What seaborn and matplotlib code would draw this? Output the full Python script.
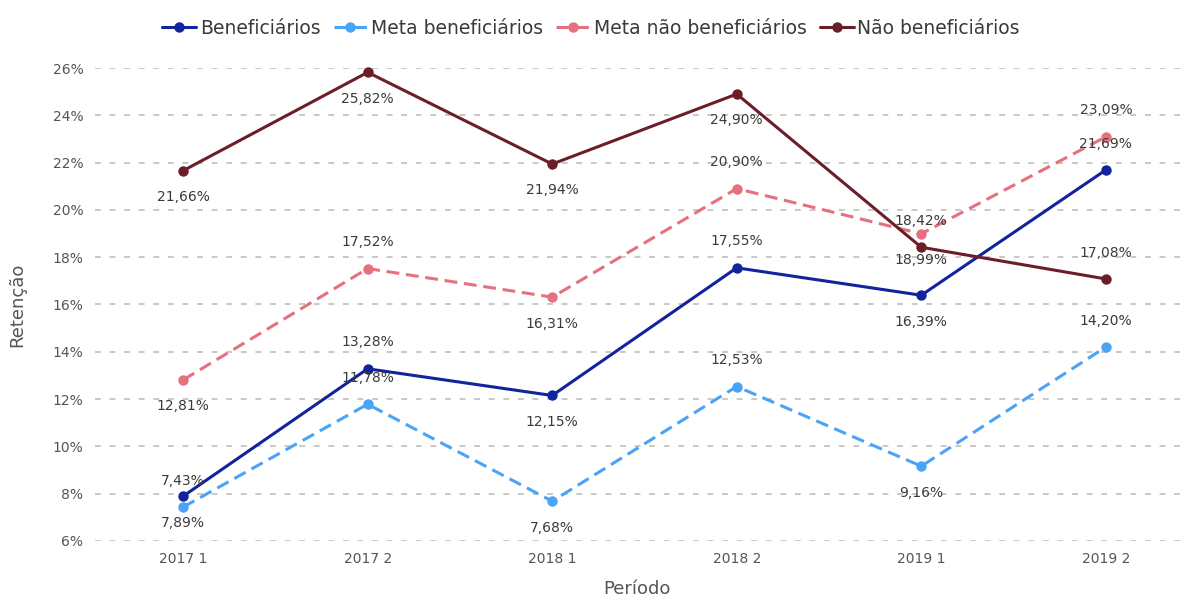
import pandas as pd
import matplotlib.pyplot as plt
import seaborn as sns

periodos = ["2017 1", "2017 2", "2018 1", "2018 2", "2019 1", "2019 2"]
series = ["Beneficiários", "Meta beneficiários", "Meta não beneficiários", "Não beneficiários"]
beneficiarios = [7.89, 13.28, 12.15, 17.55, 16.39, 21.69]
meta_beneficiarios = [7.43, 11.78, 7.68, 12.53, 9.16, 14.20]
meta_nao_beneficiarios = [12.81, 17.52, 16.31, 20.90, 18.99, 23.09]
nao_beneficiarios = [21.66, 25.82, 21.94, 24.90, 18.42, 17.08]
y_ticks = [6, 8, 10, 12, 14, 16, 18, 20, 22, 24, 26]

valores = [beneficiarios, meta_beneficiarios, meta_nao_beneficiarios, nao_beneficiarios]
df = pd.DataFrame(
    [(p, s, v) for s, vals in zip(series, valores) for p, v in zip(periodos, vals)],
    columns=["Período", "Série", "Retenção"],
)

cores = {
    "Beneficiários": "#12239E",
    "Meta beneficiários": "#4AA3F5",
    "Meta não beneficiários": "#E5707E",
    "Não beneficiários": "#6B1E28",
}
tracos = {
    "Beneficiários": "",
    "Meta beneficiários": (4.2, 2.2),
    "Meta não beneficiários": (4.2, 2.2),
    "Não beneficiários": "",
}
# posicao dos rotulos: 1 acima, -1 abaixo
direcao = {
    "Beneficiários": [-1, 1, -1, 1, -1, 1],
    "Meta beneficiários": [1, 1, -1, 1, -1, 1],
    "Meta não beneficiários": [-1, 1, -1, 1, -1, 1],
    "Não beneficiários": [-1, -1, -1, -1, 1, 1],
}

sns.set_style("white")
plt.rcParams["font.family"] = ["DejaVu Sans"]
cinza = "#555555"

fig = plt.figure(figsize=(11.82, 5.97), dpi=100)
ax = fig.add_axes([0.080, 0.094, 0.918, 0.792])

sns.lineplot(
    data=df, x="Período", y="Retenção", hue="Série", style="Série",
    palette=cores, dashes=tracos, markers={s: "o" for s in series},
    markersize=7.5, markeredgewidth=0, linewidth=2.2, ax=ax, sort=False,
)

for s, vals in zip(series, valores):
    for i, v in enumerate(vals):
        d = direcao[s][i]
        ax.annotate(
            f"{v:.2f}".replace(".", ",") + "%", (i, v),
            xytext=(0, 19 * d), textcoords="offset points",
            ha="center", va="center", fontsize=10, color="#3A3A3A",
        )

ax.set_ylim(6, 26)
ax.set_xlim(-0.48, 5.4)
ax.set_yticks(y_ticks)
ax.set_yticklabels([f"{t}%" for t in y_ticks])
ax.yaxis.grid(True, color="#C8C8C8", linestyle=(0, (3, 4.5)), linewidth=1.4)
ax.xaxis.grid(False)
for sp in ax.spines.values():
    sp.set_visible(False)
for line in ax.lines:
    line.set_clip_on(False)
ax.tick_params(axis="both", length=0, labelsize=10, labelcolor=cinza, pad=8)
ax.set_xlabel("Período", fontsize=13, color=cinza, labelpad=10)
ax.set_ylabel("Retenção", fontsize=13, color=cinza)
ax.yaxis.set_label_coords(-0.063, 0.5)

handles, labels = ax.get_legend_handles_labels()
ax.legend_.remove()
fig.legend(
    handles, labels, loc="center", bbox_to_anchor=(0.5, 0.953), ncol=4,
    frameon=False, fontsize=13.5, labelcolor="#3A3A3A", handlelength=1.8,
    handletextpad=0.2, columnspacing=0.7,
)

fig.savefig("out.png", dpi=100)
